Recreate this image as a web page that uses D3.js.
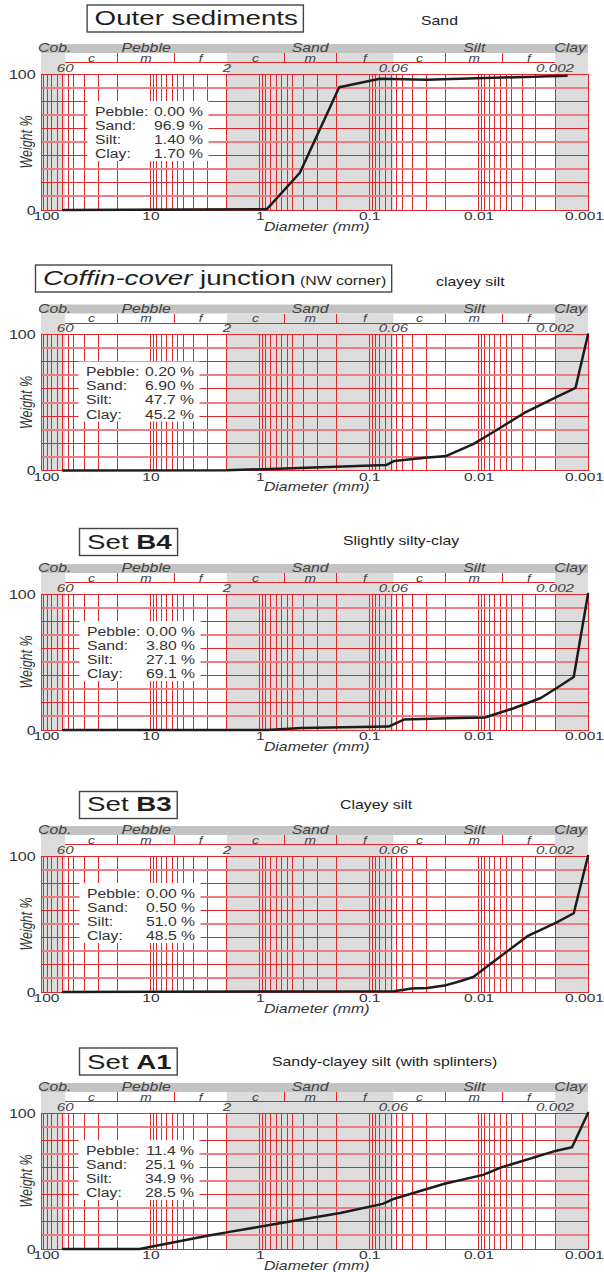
<!DOCTYPE html>
<html>
<head>
<meta charset="utf-8">
<script src="https://cdn.jsdelivr.net/npm/d3@7/dist/d3.min.js"></script>
<style>
  body { margin: 0; background: #fff; }
  svg { display: block; }
</style>
</head>
<body>
<div id="chart"></div>
<script>
// ---- values ----
var titlePlain  = ["Outer sediments", " junction", "Set ", "Set ", "Set "];
var titleItalic = ["", "Coffin-cover", "", "", ""];
var titleBold   = ["", "", "B4", "B3", "A1"];
var titleNote   = ["", " (NW corner)", "", "", ""];
var subtitles   = ["Sand", "clayey silt", "Slightly silty-clay", "Clayey silt", "Sandy-clayey silt (with splinters)"];

var fractionNames = ["Pebble:", "Sand:", "Silt:", "Clay:"];
var pebblePct = ["0.00", "0.20", "0.00", "0.00", "11.4"];
var sandPct   = ["96.9", "6.90", "3.80", "0.50", "25.1"];
var siltPct   = ["1.40", "47.7", "27.1", "51.0", "34.9"];
var clayPct   = ["1.70", "45.2", "69.1", "48.5", "28.5"];

// cumulative weight % against diameter (mm)
var outerD  = [63, 0.865, 0.43, 0.188, 0.08, 0.03, 0.00157];
var outerW  = [0, 0.5, 27.4, 90.2, 96.5, 95.8, 98.7];
var coffinD = [63, 2, 0.93, 0.07, 0.059, 0.031, 0.0197, 0.0112, 0.0066, 0.0037, 0.00195, 0.0013, 0.001];
var coffinW = [0, 0.2, 1, 4, 7, 9.4, 10.7, 19.4, 30.5, 43, 54, 60.8, 100];
var b4D     = [63, 0.86, 0.415, 0.0667, 0.0482, 0.019, 0.00875, 0.00478, 0.0027, 0.00195, 0.00135, 0.001];
var b4W     = [0, 0, 1.5, 2.5, 7.7, 8.7, 9.2, 16, 23.5, 30.7, 39, 100];
var b3D     = [63, 0.059, 0.041, 0.0295, 0.0205, 0.0148, 0.0112, 0.0066, 0.00358, 0.00195, 0.00135, 0.001];
var b3W     = [0, 0.5, 2.5, 3, 4.7, 7.9, 11, 25, 41, 51, 57.9, 100];
var a1D     = [63, 12.6, 2.92, 1.95, 0.79, 0.184, 0.0753, 0.059, 0.0205, 0.0091, 0.0062, 0.00195, 0.0014, 0.001];
var a1W     = [0, 0, 9.9, 12.4, 17.8, 26.5, 33.2, 37, 48, 54.5, 60, 72.3, 74.8, 100];

// size classes
var classBounds = [100, 60, 2, 0.06, 0.002, 0.001];
var classNames  = ["Cob.", "Pebble", "Sand", "Silt", "Clay"];
var classShaded = [true, false, true, false, true];
var subBounds   = [[60, 20, 6, 2], [2, 0.6, 0.2, 0.06], [0.06, 0.02, 0.006, 0.002]];
var subNames    = ["c", "m", "f"];
var boundValues = [60, 2, 0.06, 0.002];
var boundLabels = ["60", "2", "0.06", "0.002"];

var xTickValues = [100, 10, 1, 0.1, 0.01, 0.001];
var xTickLabels = ["100", "10", "1", "0.1", "0.01", "0.001"];
var yTickValues = [0, 100];
var gridSteps   = [1, 0.94, 0.88, 0.8, 0.71, 0.63, 0.56, 0.5, 0.4, 0.3, 0.2];
var gridDecades = [100, 10, 1, 0.1, 0.01];
var yGridValues = d3.range(0, 101, 10);

// ---- layout ----
var X0 = 41, X1 = 588, H = 136;
var tops = [74, 334.5, 594, 856, 1113];
var titleX = [94.6, 43, 87, 87, 87];
var titleTop = [-69, -69.5, -65.5, -64.5, -65];
var titleBase = [-48.7, -49.5, -45.3, -44.7, -44.3];
var subX = [421, 436, 343, 340, 272];
var subBase = [-49, -48.5, -49.4, -47, -47.3];
var legendX = [95, 86, 87, 87, 86];
var SX = 1.32;   // the reference lettering is drawn wide

var RED = "#e3262b", RED_LIGHT = "#ee7e81", SHADE = "#dcdcdc", BAR = "#c3c3c3", INK = "#333";

var samples = [
  {d: outerD, w: outerW}, {d: coffinD, w: coffinW}, {d: b4D, w: b4W},
  {d: b3D, w: b3W}, {d: a1D, w: a1W}
];

var gridValues = [];
gridDecades.forEach(function (b) {
  gridSteps.forEach(function (m) { gridValues.push(b * m); });
});
gridValues.push(0.001);

var svg = d3.select("#chart").append("svg")
  .attr("width", 604).attr("height", 1272)
  .style("font-family", "'Liberation Sans', Arial, sans-serif")
  .attr("fill", INK);

var x = d3.scaleLog().domain([100, 0.001]).range([X0, X1]);

function wide(g, px, py, str, size, sx) {
  return g.append("text")
    .attr("transform", "translate(" + px + "," + py + ") scale(" + (sx || SX) + ",1)")
    .attr("font-size", size)
    .text(str);
}

samples.forEach(function (s, i) {
  var T = tops[i];
  var y = d3.scaleLinear().domain([0, 100]).range([T + H, T]);
  var g = svg.append("g");

  // title box
  var tt = g.append("text")
    .attr("transform", "translate(" + titleX[i] + "," + (T + titleBase[i]) + ") scale(" + SX + ",1)")
    .attr("font-size", 21).attr("fill", "#1e1e1e");
  if (titleItalic[i]) tt.append("tspan").attr("font-style", "italic").text(titleItalic[i]);
  tt.append("tspan").text(titlePlain[i]);
  if (titleBold[i]) tt.append("tspan").attr("font-weight", "bold").text(titleBold[i]);
  if (titleNote[i]) tt.append("tspan").attr("font-size", 12).text(titleNote[i]);
  var bw = tt.node().getBBox().width * SX;
  g.insert("rect", "text")
    .attr("x", titleX[i] - 7.5).attr("y", T + titleTop[i])
    .attr("width", bw + 13).attr("height", 27)
    .attr("fill", "#fff").attr("stroke", "#444").attr("stroke-width", 1.4);

  wide(g, subX[i], T + subBase[i], subtitles[i], 12).attr("fill", "#222");

  // top class bar
  g.append("rect").attr("x", X0).attr("y", T - 30).attr("width", X1 - X0).attr("height", 9).attr("fill", BAR);

  // shaded columns (header rows and plot)
  classNames.forEach(function (c, k) {
    if (!classShaded[k]) return;
    g.append("rect")
      .attr("x", x(classBounds[k])).attr("y", T - 21)
      .attr("width", x(classBounds[k + 1]) - x(classBounds[k])).attr("height", H + 21)
      .attr("fill", SHADE);
  });

  // class names
  classNames.forEach(function (c, k) {
    var t;
    if (k === 0) t = wide(g, 38, T - 22, c, 12);
    else if (k === classNames.length - 1) t = wide(g, 586, T - 22, c, 12).attr("text-anchor", "end");
    else t = wide(g, (x(classBounds[k]) + x(classBounds[k + 1])) / 2, T - 22, c, 12).attr("text-anchor", "middle");
    t.attr("font-style", "italic").attr("fill", "#444");
  });

  // c / m / f subdivisions
  subBounds.forEach(function (sb, k) {
    if (!classShaded[k * 2 + 1]) {
      g.append("line")
        .attr("x1", x(sb[0])).attr("x2", x(sb[3]))
        .attr("y1", T - 11.5).attr("y2", T - 11.5)
        .attr("stroke", RED).attr("stroke-width", 1).attr("shape-rendering", "crispEdges");
    }
    [sb[1], sb[2]].forEach(function (v) {
      g.append("line").attr("x1", x(v)).attr("x2", x(v))
        .attr("y1", T - 21).attr("y2", T - 11.5)
        .attr("stroke", RED).attr("stroke-width", 1).attr("shape-rendering", "crispEdges");
    });
    subNames.forEach(function (n, j) {
      wide(g, (x(sb[j]) + x(sb[j + 1])) / 2, T - 12.5, n, 10.5)
        .attr("text-anchor", "middle").attr("font-style", "italic").attr("fill", "#444");
    });
  });

  boundValues.forEach(function (v, k) {
    wide(g, x(v), T - 2.5, boundLabels[k], 11.5)
      .attr("text-anchor", "middle").attr("font-style", "italic").attr("fill", "#444");
  });

  // grid
  g.append("g").attr("shape-rendering", "crispEdges")
    .selectAll("line").data(gridValues).join("line")
    .attr("x1", function (d) { return x(d); }).attr("x2", function (d) { return x(d); })
    .attr("y1", T).attr("y2", T + H)
    .attr("stroke", RED).attr("stroke-width", 1);
  g.append("g").attr("shape-rendering", "crispEdges")
    .selectAll("line").data(yGridValues).join("line")
    .attr("x1", X0).attr("x2", X1)
    .attr("y1", function (d) { return y(d); }).attr("y2", function (d) { return y(d); })
    .attr("stroke", function (d) { return (d / 10) % 2 ? RED_LIGHT : RED; })
    .attr("stroke-width", function (d) { return (d / 10) % 2 ? 2 : 1; });
  g.append("rect").attr("x", X0).attr("y", T).attr("width", X1 - X0).attr("height", H)
    .attr("fill", "none").attr("stroke", RED).attr("stroke-width", 1).attr("shape-rendering", "crispEdges");

  // legend
  var L = legendX[i];
  g.append("rect").attr("x", L - 7.5).attr("y", T + 27).attr("width", 121).attr("height", 60).attr("fill", "#fff");
  var vals = [pebblePct[i], sandPct[i], siltPct[i], clayPct[i]];
  fractionNames.forEach(function (n, k) {
    wide(g, L, T + 41.5 + k * 14.2, n, 12.3, 1.28);
    wide(g, L + 108, T + 41.5 + k * 14.2, vals[k] + " %", 12.3, 1.28).attr("text-anchor", "end");
  });

  // axes
  var ax = g.append("g").attr("transform", "translate(0," + (T + H) + ")")
    .call(d3.axisBottom(x).tickValues(xTickValues)
      .tickFormat(function (d, k) { return xTickLabels[k]; }).tickSize(0));
  ax.select(".domain").remove();
  ax.selectAll("text")
    .attr("y", 10).attr("dy", 0).attr("fill", INK)
    .attr("font-size", 11.8).attr("font-family", null)
    .attr("transform", function (d, k) {
      var dx = k === 0 ? 5 : (k === xTickValues.length - 1 ? -4 : 0);
      return "translate(" + dx + ",0) scale(" + SX + ",1)";
    });

  var ay = g.append("g").attr("transform", "translate(" + X0 + ",0)")
    .call(d3.axisLeft(y).tickValues(yTickValues).tickSize(0).tickPadding(4));
  ay.select(".domain").remove();
  ay.selectAll("text").attr("fill", INK).attr("font-size", 12.2).attr("font-family", null)
    .attr("dy", "0.35em").attr("transform", "scale(" + SX + ",1)");

  wide(g, 316.7, T + H + 20.5, "Diameter (mm)", 12)
    .attr("text-anchor", "middle").attr("font-style", "italic").attr("fill", "#333");
  g.append("text")
    .attr("transform", "translate(32," + (T + H / 2) + ") rotate(-90) scale(1," + SX + ")")
    .attr("text-anchor", "middle").attr("font-size", 12.5).attr("font-style", "italic")
    .text("Weight %");

  // curve
  var pts = s.d.map(function (d, k) { return [d, s.w[k]]; });
  g.append("path").datum(pts)
    .attr("fill", "none").attr("stroke", "#1c1c1c").attr("stroke-width", 2.5)
    .attr("stroke-linejoin", "round").attr("stroke-linecap", "round")
    .attr("d", d3.line().x(function (d) { return x(d[0]); }).y(function (d) { return y(d[1]); }));
});
</script>
</body>
</html>
